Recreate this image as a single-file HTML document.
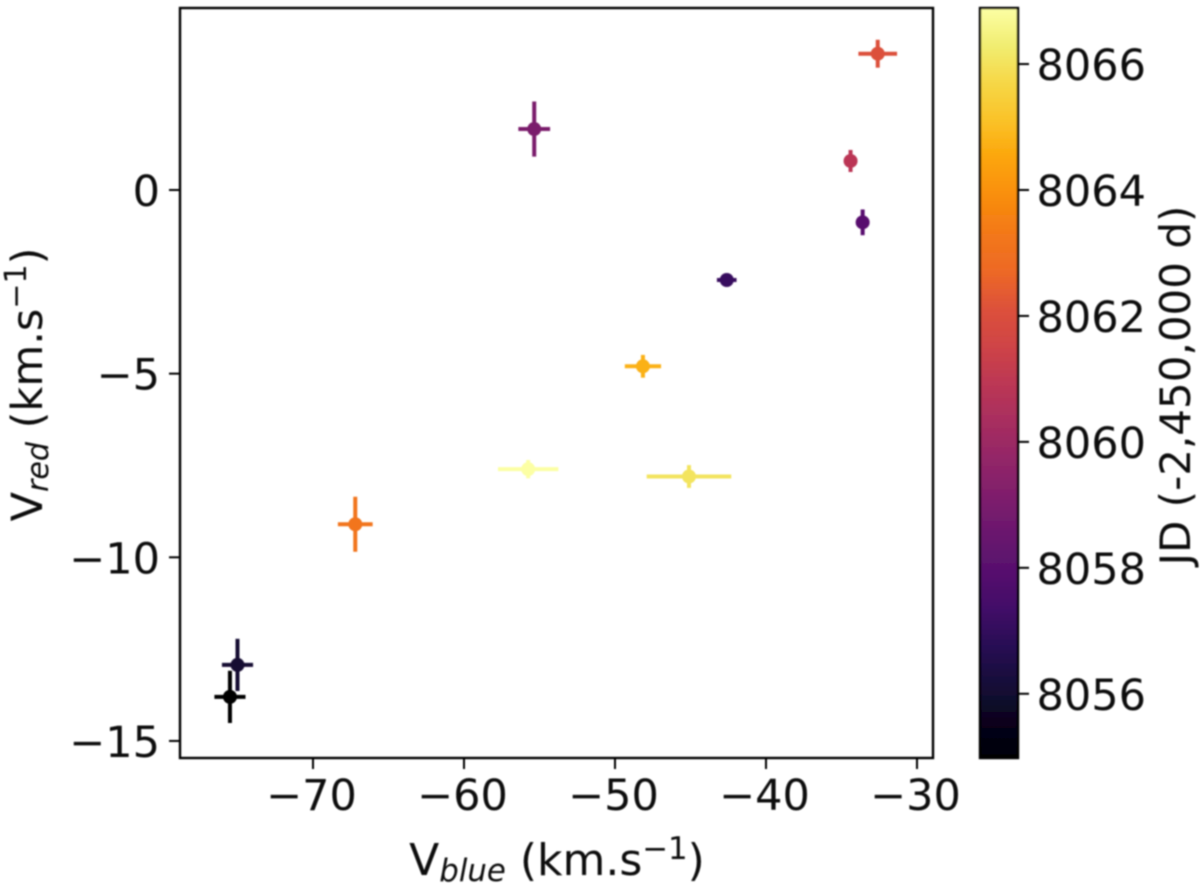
<!DOCTYPE html>
<html lang="en">
<head>
<meta charset="utf-8">
<title>Vred vs Vblue scatter</title>
<style>
html,body{margin:0;padding:0;background:#fff;width:1200px;height:892px;overflow:hidden}
svg{display:block;font-family:"DejaVu Sans","Liberation Sans",sans-serif;fill:#000}
text{fill:#0c0c0c}
</style>
</head>
<body>
<svg id="chart" xmlns="http://www.w3.org/2000/svg" width="1200" height="892" viewBox="0 0 1200 892">
  <defs>
    <filter id="soft" x="-2%" y="-2%" width="104%" height="104%"><feGaussianBlur stdDeviation="0.7"/></filter>
    <linearGradient id="inferno-grad" x1="0" y1="1" x2="0" y2="0"></linearGradient>
  </defs>
  <g id="root" filter="url(#soft)">
    <g id="marks"></g>
    <rect x="180" y="8" width="753" height="750" fill="none" stroke="#000" stroke-width="2.4"/>
    <g id="xticks"></g>
    <g id="yticks"></g>
    <text x="557" y="875" font-size="44" text-anchor="middle">V<tspan font-size="30.8" font-style="italic" dy="6">blue</tspan><tspan dy="-6"> (km.s</tspan><tspan font-size="30.8" dy="-16">−1</tspan><tspan dy="16">)</tspan></text>
    <text transform="translate(42,384.5) rotate(-90)" font-size="43" text-anchor="middle">V<tspan font-size="30.1" font-style="italic" dy="6">red</tspan><tspan dy="-6"> (km.s</tspan><tspan font-size="30.1" dy="-16">−1</tspan><tspan dy="16">)</tspan></text>
    <rect x="980" y="8" width="38" height="750" fill="url(#inferno-grad)" stroke="#000" stroke-width="2.4"/>
    <g id="cticks"></g>
    <text transform="translate(1190,385.5) rotate(-90)" font-size="42" text-anchor="middle">JD (-2,450,000 d)</text>
  </g>
</svg>
<script>
// Data
const vBlue    = [-75.5, -75.0, -42.6, -33.6, -55.35, -34.4, -32.6, -67.2, -48.15, -45.1, -55.75];
const vBlueErr = [1.03, 1.03, 0.65, 0.3, 1.05, 0.3, 1.28, 1.15, 1.2, 2.8, 2.0];
const vRed     = [-13.8, -12.93, -2.45, -0.88, 1.66, 0.79, 3.71, -9.1, -4.8, -7.8, -7.6];
const vRedErr  = [0.71, 0.71, 0.18, 0.35, 0.75, 0.3, 0.38, 0.75, 0.31, 0.31, 0.25];
const julianDate = [8055.0, 8056.0, 8057.1, 8058.0, 8059.0, 8060.9, 8062.1, 8063.2, 8064.75, 8066.05, 8066.9];
const xTickValues = [-70, -60, -50, -40, -30];
const yTickValues = [0, -5, -10, -15];
const colorTickValues = [8056, 8058, 8060, 8062, 8064, 8066];
const infernoStops = ["#000004","#08051d","#160b39","#280b54","#420a68","#57106e","#6a176e","#7f1e6c","#932667","#a82e5f","#bc3754","#cf4446","#dd513a","#ed6925","#f37819","#f98e09","#fca50a","#fac228","#f6d746","#f1ed71","#fcffa4"];

const NS = "http://www.w3.org/2000/svg";
const xScale = v => 313 + (v + 70) * 15.1;
const yScale = v => 190 - v * 36.73;
const cMin = 8054.98, cMax = 8066.89;
const cScale = v => 758 - (v - cMin) / (cMax - cMin) * 750;

function hexToRgb(h){ return [1,3,5].map(i => parseInt(h.substr(i,2),16)); }
function infernoColor(v){
  const t = Math.max(0, Math.min(1, (v - cMin) / (cMax - cMin))) * (infernoStops.length - 1);
  const i = Math.min(Math.floor(t), infernoStops.length - 2);
  const a = hexToRgb(infernoStops[i]), b = hexToRgb(infernoStops[i + 1]);
  const f = t - i;
  return "rgb(" + a.map((c, k) => Math.round(c + (b[k] - c) * f)).join(",") + ")";
}
function make(tag, attrs, parent){
  const el = document.createElementNS(NS, tag);
  for (const k in attrs) el.setAttribute(k, attrs[k]);
  parent.appendChild(el);
  return el;
}
const fmt = v => (v < 0 ? "\u2212" + Math.abs(v) : String(v));

// Colorbar gradient
const grad = document.getElementById("inferno-grad");
infernoStops.forEach((c, i) => {
  make("stop", {offset: i / (infernoStops.length - 1), "stop-color": c}, grad);
});

// X ticks
const xG = document.getElementById("xticks");
xTickValues.forEach(v => {
  const tick = make("line", {x1: xScale(v), x2: xScale(v), y1: 758, y2: 769, stroke: "#000", "stroke-width": 2}, xG);
  
  
  const label = make("text", {x: xScale(v) - 1.5, y: 810, "font-size": 43, "text-anchor": "middle"}, xG);
  
  
  label.textContent = fmt(v);
});

// Y ticks
const yG = document.getElementById("yticks");
yTickValues.forEach(v => {
  const tick = make("line", {x1: 169, x2: 180, y1: yScale(v), y2: yScale(v), stroke: "#000", "stroke-width": 2}, yG);
  
  
  const label = make("text", {x: 160, y: yScale(v) + 16, "font-size": 43, "text-anchor": "end"}, yG);
  
  
  label.textContent = fmt(v);
});

// Colorbar ticks
const cG = document.getElementById("cticks");
colorTickValues.forEach(v => {
  const tick = make("line", {x1: 1018, x2: 1029, y1: cScale(v), y2: cScale(v), stroke: "#000", "stroke-width": 2}, cG);
  
  
  const label = make("text", {x: 1036.5, y: cScale(v) + 16, "font-size": 43}, cG);
  
  
  label.textContent = String(v);
});

// Points with error bars
const mG = document.getElementById("marks");
vBlue.forEach((xv, i) => {
  const color = infernoColor(julianDate[i]);
  const cx = xScale(xv), cy = yScale(vRed[i]);
  const group = make("g", {}, mG);
  
  
  const hBar = make("line", {x1: xScale(xv - vBlueErr[i]), x2: xScale(xv + vBlueErr[i]), y1: cy, y2: cy, stroke: color, "stroke-width": 4}, group);
  
  
  const vBar = make("line", {x1: cx, x2: cx, y1: yScale(vRed[i] - vRedErr[i]), y2: yScale(vRed[i] + vRedErr[i]), stroke: color, "stroke-width": 4}, group);
  
  
  const dot = make("circle", {cx: cx, cy: cy, r: 7, fill: color}, group);
  
  
});
</script>
</body>
</html>
